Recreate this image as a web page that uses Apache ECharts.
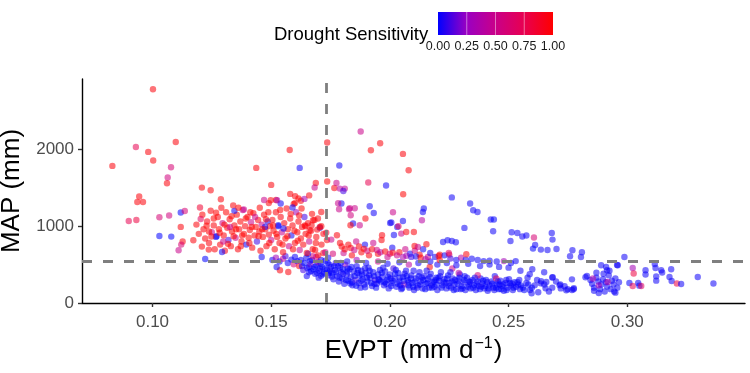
<!DOCTYPE html>
<html><head><meta charset="utf-8">
<script src="https://cdn.jsdelivr.net/npm/echarts@6/dist/echarts.min.js"></script>
<style>html,body{margin:0;padding:0;background:#fff}#c{width:750px;height:373px}</style>
</head><body><div id="c"></div>
<script>
// ---- tick labels / reference values ----
const xTicks = [0.10, 0.15, 0.20, 0.25, 0.30];
const yTicks = [0, 1000, 2000];
const legendTicks = [0, 0.25, 0.5, 0.75, 1];
const evptRef = 0.1734;
const mapRef = 540;

// ---- points: [EVPT, MAP, drought sensitivity] ----
const outlierPts = [
[0.1002,2782,0.97],[0.1098,2096,0.97],[0.0930,2031,0.75],[0.0982,1966,0.97],[0.1003,1854,0.97],[0.0831,1784,0.97],
[0.1078,1767,0.6],[0.1064,1633,0.55],[0.1061,1558,0.97],[0.1208,1502,0.97],[0.1245,1467,0.97],[0.0944,1385,0.97],
[0.0936,1315,0.97],[0.0960,1315,0.97],[0.1288,1350,0.97],[0.0900,1068,0.75],[0.0932,1081,0.8],[0.1029,1116,0.6],
[0.1070,1138,0.55],[0.1119,1177,0.0],[0.1136,1198,0.6],[0.1029,872,0.0],[0.1079,864,0.0],[0.1119,990,0.97],
[0.1127,800,0.97],[0.1121,760,0.6],[0.1110,686,0.5],[0.1172,816,0.97],[0.1208,734,1],[0.1222,573,0.0],
[0.1237,695,0.97],[0.1200,1242,0.85],[0.1203,1094,0.7],
[0.1437,1758,0.97],[0.1578,1992,0.97],[0.1620,1758,0.02],[0.1736,2089,0.97],[0.1500,1537,0.97],[0.1688,1563,0.97],
[0.1683,1503,0.5],[0.1736,1581,1],[0.1775,1563,0.5],[0.1787,1789,0.02],
[0.1877,2232,0.5],[0.1959,2079,0.97],[0.1920,1988,0.97],[0.2055,1940,0.97],[0.2079,1728,0.97],[0.1909,1568,0.75],
[0.1984,1529,0.02],[0.2056,1415,1],
[0.2261,1374,0.02],[0.2338,1294,0.02],[0.2351,1207,0.02],[0.2369,1185,0.02],[0.2425,1086,0.02],[0.2438,1086,0.0],
[0.2435,934,0.02],[0.2314,977,0.02],[0.2513,921,0.02],[0.2537,911,0.02],[0.2508,807,0.02],[0.2558,865,0.02],
[0.2575,878,0.02],[0.2607,852,0.6],[0.2612,755,0.02],[0.2603,708,0.0],[0.2636,695,0.02],[0.2664,690,0.02],
[0.2702,703,0.02],[0.2682,911,0.02],[0.2685,825,0.02],[0.2769,686,0.02],[0.2809,660,0.02],[0.2805,599,0.02],
[0.2759,608,0.02],[0.2224,794,0.02],[0.2243,816,0.02],[0.2261,807,0.02],[0.2278,790,0.02]
];

const redCluster = [
[0.1185,1020,0.97],[0.1195,900,0.97],[0.1210,1150,1],[0.1215,960,0.97],[0.1222,840,0.97],[0.1230,1060,0.95],
[0.1238,780,0.97],[0.1245,1200,0.97],[0.1250,920,0.5],[0.1258,1010,0.97],[0.1262,700,0.97],[0.1270,870,0.02],
[0.1275,1120,0.97],[0.1280,960,1.0],[0.1285,760,0.97],[0.1290,1240,0.97],[0.1295,1040,0.5],[0.1300,880,0.97],
[0.1305,680,0.95],[0.1310,1180,1],[0.1315,980,0.97],[0.1320,820,0.1],[0.1325,1090,0.97],[0.1330,740,0.97],
[0.1335,930,1.0],[0.1340,1270,0.97],[0.1345,1010,0.97],[0.1350,850,0.5],
[0.1355,1150,1],[0.1360,700,0.97],[0.1365,960,0.97],[0.1370,1060,1.0],[0.1375,800,0.97],[0.1380,1210,0.5],
[0.1385,900,1],[0.1390,1000,0.97],[0.1395,760,0.02],[0.1400,1120,0.97],[0.1405,850,1.0],[0.1410,950,0.97],
[0.1415,1050,0.5],[0.1420,720,0.97],[0.1425,1170,0.97],[0.1430,880,0.97],[0.1435,990,1.0],[0.1440,800,0.1],
[0.1445,1080,0.97],[0.1450,930,0.97],[0.1455,680,0.97],[0.1460,1020,0.5],[0.1465,860,1.0],[0.1470,1150,0.97],
[0.1475,960,0.97],[0.1480,740,0.97],[0.1485,1060,0.02],[0.1490,890,0.97],[0.1495,1000,0.97],[0.1500,820,0.5],
[0.1345,1199,0.02],[0.1385,1216,0.5],
[0.1505,1080,0.97],[0.1510,940,1.0],[0.1515,700,0.97],[0.1520,1180,0.97],[0.1525,860,0.97],[0.1530,1000,0.02],
[0.1535,780,0.97],[0.1540,1120,0.97],[0.1545,920,0.5],[0.1550,660,0.97],[0.1555,1040,0.97],[0.1560,840,1.0],
[0.1565,1230,0.97],[0.1570,960,0.97],[0.1575,740,0.5],[0.1580,1100,0.97],[0.1585,880,0.02],[0.1590,1010,0.97],
[0.1595,1290,0.97],[0.1600,780,0.97],[0.1605,1180,0.3],[0.1610,920,0.97],[0.1615,1060,0.97],[0.1620,690,0.5],
[0.1625,840,0.97],[0.1630,990,0.97],[0.1635,760,0.97],[0.1640,1120,0.1],[0.1645,900,0.97],[0.1650,650,0.97],
[0.1655,1040,0.97],[0.1660,800,0.5],[0.1668,940,0.97],[0.1675,700,0.97],[0.1682,1080,0.97],[0.1690,860,0.97],
[0.1698,620,0.97],[0.1705,980,0.02],[0.1712,760,0.97],[0.1720,900,0.97],[0.1728,660,0.5],[0.1735,820,0.97],
[0.1601,1389,0.97],[0.1580,1420,0.97],[0.1615,1360,1],[0.1625,1330,0.97],[0.1640,1355,0.3],[0.1660,1400,0.97],
[0.1600,1300,0.97],[0.1520,1340,0.97],[0.1490,1300,0.97],[0.1470,1340,0.5],[0.1540,1295,0.02],[0.1498,1337,0.97],
[0.1525,1337,0.3],[0.1590,1242,0.02],[0.1530,1012,0.02],[0.1474,990,0.02],[0.1293,664,0.02],[0.1267,860,0.02],
[0.1326,990,0.5],[0.1460,599,0.02],[0.1711,1185,0.97],[0.1676,1077,0.97],[0.1705,990,0.97]
];

const redCluster2 = [
[0.1228,1005,1],[0.1248,865,1],[0.1268,1175,1],[0.1283,915,1],[0.1303,1020,1],[0.1318,770,1],[0.1333,1130,1],
[0.1352,960,1],[0.1362,1240,1],[0.1378,880,1],[0.1393,1100,1],[0.1408,780,1],[0.1418,990,1],[0.1432,1120,0.5],
[0.1447,870,1],[0.1462,960,1],[0.1478,1090,1],[0.1492,780,1],[0.1508,1010,1],[0.1522,900,1],[0.1538,1210,1],
[0.1552,970,0.02],[0.1568,870,1],[0.1582,1160,1],[0.1598,940,1],[0.1612,810,1],[0.1628,1230,1],[0.1642,1010,1],
[0.1658,880,1],[0.1672,1160,1],[0.1688,780,1],[0.1238,930,1],[0.1258,1100,1],[0.1298,800,0.5],[0.1342,870,1],
[0.1372,740,1],[0.1412,1180,1],[0.1452,1240,1],[0.1488,1180,1],[0.1548,760,1],[0.1592,700,1],[0.1618,1140,1]
];

const crossPts = [
[0.1766,1497,0.97],[0.1789,1489,0.4],[0.1810,1489,0.45],[0.1804,1458,0.1],[0.1796,1294,0.02],[0.1782,1298,0.5],
[0.1831,1233,0.5],[0.1852,1233,0.5],[0.1915,1259,0.02],[0.1786,1220,0.5],[0.1828,1220,0.5],[0.1835,1142,0.55],
[0.1845,1034,0.02],[0.1834,1012,0.97],[0.1873,1012,0.5],[0.1897,1099,0.97],[0.1932,1172,0.02],[0.2013,1181,0.5],
[0.2006,1047,0.02],[0.2055,1068,0.02],[0.2031,990,0.02],[0.2048,903,0.5],[0.2101,924,0.97],[0.2104,742,0.97],
[0.2118,729,0.5],[0.1777,881,0.97],[0.1753,825,0.5],[0.1732,916,0.85],[0.1694,955,0.97],[0.1670,1012,0.97],
[0.1697,1099,0.97],[0.1711,999,0.97],[0.1645,999,0.97],[0.1662,947,0.97],[0.2036,999,0.7],[0.2001,1042,0.02],
[0.2069,924,0.97],[0.2017,885,0.02],[0.1967,881,0.97],[0.2143,1229,0.02],[0.2139,1185,0.02],[0.2135,1077,0.4],
[0.2154,764,0.97],[0.2206,612,0.97],[0.2248,651,0.7],[0.2322,634,0.97]
];

const shoulderPts = [
[0.1790,780,0.97],[0.1805,650,0.5],[0.1825,760,0.97],[0.1840,620,0.97],[0.1858,800,0.5],[0.1880,660,0.97],
[0.1895,760,0.02],[0.1912,620,0.97],[0.1930,780,0.5],[0.1950,640,0.97],[0.1965,820,0.97],[0.1990,600,0.5],
[0.2010,720,0.02],[0.2040,660,0.97],[0.2065,700,0.5],[0.2085,640,0.02],[0.2105,680,0.5],[0.2125,630,0.97],
[0.2140,700,0.02],[0.2160,600,0.5],[0.1655,640,0.02],[0.1690,600,0.5],[0.1720,650,0.97],[0.1740,590,0.02],
[0.1760,640,0.6],[0.1685,690,0.97],[0.1710,560,0.02],
[0.1797,735,0.97],[0.1810,700,0.97],[0.1835,715,0.95],[0.1850,690,0.5],[0.1870,735,0.97],[0.1890,705,0.97],
[0.1905,680,0.6],[0.1925,700,0.97],[0.1945,690,0.55],[0.1960,660,0.4],[0.1980,670,0.97],[0.2000,640,0.6],
[0.2012,655,0.97],[0.2030,620,0.5],[0.2055,600,0.35],[0.2070,615,0.3],[0.2090,600,0.1],[0.2110,605,0.02],
[0.2130,590,0.97],[0.2150,570,0.35],[0.2170,650,0.02],[0.2190,600,0.02],[0.2210,560,0.97],[0.2230,620,0.02],
[0.2255,580,0.1],[0.2280,560,0.02],[0.2300,590,0.4],[0.2320,565,0.02],[0.2345,575,0.02],[0.2370,560,0.02],
[0.2395,545,0.02],[0.2420,550,0.02],[0.2450,540,0.02],[0.2480,545,0.3],[0.2510,520,0.02],[0.2530,545,0.02]
];

const bandPts = [
[0.1505,560,0.02],[0.1520,590,0.3],[0.1535,540,0.02],[0.1550,575,0.5],[0.1560,610,0.1],[0.1570,520,0.02],
[0.1585,565,0.02],[0.1595,505,0.6],[0.1600,600,0.02],[0.1610,545,0.02],[0.1618,480,0.97],[0.1537,426,0.97],
[0.1572,404,0.97],[0.1523,469,0.02],
[0.1625,560,0.02],[0.1630,480,0.02],[0.1635,430,0.1],[0.1640,520,0.0],[0.1648,590,0.02],[0.1652,455,0.02],
[0.1660,400,0.02],[0.1665,505,0.3],[0.1672,560,0.02],[0.1678,440,0.0],[0.1685,380,0.02],[0.1690,490,0.02],
[0.1698,530,0.4],[0.1702,420,0.02],[0.1710,355,0.02],[0.1715,470,0.0],[0.1722,395,0.02],[0.1728,550,0.02],
[0.1735,430,0.02],[0.1740,360,0.1],[0.1745,500,0.02],[0.1650,350,0.02],[0.1700,330,0.02],[0.1675,610,0.6],
[0.1752,470,0.02],[0.1758,390,0.0],[0.1762,310,0.02],[0.1768,430,0.02],[0.1772,520,0.1],[0.1778,350,0.02],
[0.1785,280,0.02],[0.1790,460,0.0],[0.1795,400,0.02],[0.1800,320,0.02],[0.1808,250,0.02],[0.1812,500,0.3],
[0.1818,370,0.02],[0.1825,290,0.0],[0.1830,440,0.02],[0.1835,340,0.02],[0.1842,230,0.02],[0.1848,410,0.02],
[0.1855,300,0.1],[0.1860,480,0.02],[0.1868,260,0.02],[0.1872,360,0.0],[0.1880,420,0.02],[0.1885,310,0.02],
[0.1892,240,0.02],[0.1898,390,0.02],[0.1905,280,0.0],[0.1910,460,0.02],[0.1918,330,0.02],[0.1925,220,0.02],
[0.1930,400,0.02],[0.1938,300,0.1],[0.1945,250,0.02],[0.1950,370,0.02],[0.1958,430,0.02],[0.1962,280,0.0],
[0.1968,340,0.02],[0.1975,230,0.02],[0.1980,410,0.02],[0.1988,300,0.0],[0.1995,190,0.02],[0.2000,370,0.02],
[0.2008,260,0.02],[0.2015,450,0.1],[0.2020,320,0.02],[0.2028,210,0.02],[0.2035,390,0.0],[0.2040,280,0.02],
[0.2048,180,0.02],[0.2055,340,0.02],[0.2060,240,0.3],[0.2068,420,0.02],[0.2075,300,0.02],[0.2082,200,0.02],
[0.2090,360,0.02],[0.2095,260,0.0],[0.2102,170,0.02],[0.2110,320,0.02],[0.2118,230,0.02],[0.2125,400,0.02],
[0.2130,280,0.02],[0.2138,190,0.02],[0.2145,350,0.02],[0.2152,250,0.0],[0.2160,310,0.02],[0.2165,200,0.02],
[0.2172,380,0.02],[0.2180,270,0.02],[0.2188,210,0.02],[0.2195,330,0.0],[0.2200,170,0.02],[0.2208,290,0.02],
[0.2215,400,0.02],[0.2222,230,0.02],[0.2230,310,0.02],[0.2238,190,0.02],[0.2245,360,0.0],[0.2250,260,0.02],
[0.2258,200,0.02],[0.2265,320,0.02],[0.2272,240,0.02],[0.2280,180,0.02],[0.2288,290,0.02],[0.2295,370,0.02],
[0.2302,220,0.0],[0.2310,270,0.02],[0.2318,170,0.02],[0.2325,330,0.02],[0.2332,240,0.02],[0.2340,190,0.02],
[0.2348,300,0.02],[0.2355,230,0.0],[0.2362,170,0.02],[0.2370,280,0.02],[0.2375,220,0.02],
[0.2382,320,0.02],[0.2390,250,0.02],[0.2398,190,0.02],[0.2405,300,0.0],[0.2412,160,0.02],[0.2420,230,0.02],
[0.2428,280,0.02],[0.2435,200,0.02],[0.2442,350,0.02],[0.2450,240,0.02],[0.2458,180,0.0],[0.2465,290,0.02],
[0.2472,220,0.02],[0.2480,160,0.02],[0.2488,260,0.02],[0.2495,200,0.02],[0.2502,310,0.02],[0.2510,230,0.02],
[0.2518,170,0.02],[0.2525,270,0.0],[0.2532,210,0.02],[0.2540,240,0.02],[0.2548,180,0.02],
[0.2168,469,0.97],[0.2210,630,0.97],[0.2250,630,0.7],[0.2448,318,0.7],[0.2370,361,0.6],[0.2263,448,0.5],[0.2290,390,0.4]
];

const bandPts2 = [
[0.1660,470,0.02],[0.1705,450,0.02],[0.1748,420,0.02],[0.1782,480,0.02],[0.1803,380,0.02],[0.1822,450,0.02],
[0.1840,270,0.02],[0.1863,390,0.02],[0.1876,200,0.02],[0.1895,450,0.02],[0.1912,360,0.02],[0.1935,250,0.02],
[0.1952,310,0.02],[0.1972,460,0.02],[0.1985,250,0.02],[0.2003,320,0.02],[0.2025,430,0.02],[0.2044,230,0.02],
[0.2062,380,0.02],[0.2080,270,0.02],[0.2100,420,0.02],[0.2115,200,0.02],[0.2135,330,0.02],[0.2155,420,0.02],
[0.2175,230,0.02],[0.2192,300,0.02],[0.2212,350,0.02],[0.2235,260,0.02],[0.2255,400,0.02],[0.2275,300,0.02],
[0.2298,180,0.02],[0.2315,350,0.02],[0.2338,270,0.02],[0.2358,330,0.02],[0.2385,210,0.02],[0.2410,270,0.02],
[0.2440,170,0.02],[0.2462,240,0.02],[0.2490,300,0.02],[0.2515,250,0.02],[0.2545,300,0.02],[0.2560,200,0.02],
[0.2575,260,0.02],[0.2590,170,0.02],[0.2610,230,0.02],[0.2625,140,0.02],[0.2650,240,0.02],[0.2670,150,0.02],
[0.2700,280,0.02],[0.2720,190,0.02],[0.2580,330,0.02],[0.2620,300,0.02],
[0.1820,540,0.02],[0.1860,560,0.3],[0.1900,520,0.02],[0.1950,540,0.5],[0.1990,510,0.02],[0.2040,530,0.02],
[0.2080,500,0.4],[0.2120,520,0.02],[0.2170,540,0.02],[0.2200,500,0.02],[0.2240,520,0.02],[0.2280,490,0.02],
[0.2330,510,0.02],[0.2380,480,0.02],[0.2420,500,0.02],[0.2460,470,0.02],[0.2500,460,0.02],[0.2550,420,0.02],
[0.2600,440,0.02],[0.2650,400,0.02]
];

const bandPts3 = [
[0.1663,545,0],[0.1668,415,0],[0.1683,470,0],[0.1693,395,0],[0.1708,510,0],[0.1718,375,0],[0.1726,445,0],
[0.1738,520,0],[0.1744,395,0],[0.1756,345,0],[0.1765,480,0],[0.1774,400,0],[0.1788,330,0],[0.1793,520,0],
[0.1802,440,0],[0.1815,300,0],[0.1821,410,0],[0.1833,255,0],[0.1838,470,0],[0.1851,350,0],[0.1858,225,0],
[0.1866,430,0],[0.1879,290,0],[0.1883,370,0],[0.1896,205,0],[0.1903,330,0],[0.1915,420,0],[0.1921,260,0],
[0.1933,350,0],[0.1942,200,0],[0.1955,300,0],[0.1966,390,0],[0.1978,270,0],[0.1992,340,0],
[0.2006,220,0],[0.2012,290,0],[0.2022,380,0],[0.2033,250,0],[0.2041,330,0],[0.2052,195,0],[0.2058,290,0],
[0.2071,350,0],[0.2078,230,0],[0.2088,320,0],[0.2098,210,0],[0.2106,280,0],[0.2121,350,0],[0.2128,240,0],
[0.2141,300,0],[0.2149,180,0],[0.2158,260,0],[0.2168,340,0],[0.2178,200,0],[0.2186,280,0],[0.2198,240,0],
[0.2205,330,0],[0.2218,200,0],[0.2226,270,0],[0.2241,320,0],[0.2248,220,0],[0.2262,280,0],[0.2269,170,0],
[0.2285,250,0],[0.2292,330,0],[0.2305,190,0],[0.2313,300,0],[0.2328,210,0],[0.2335,280,0],[0.2351,200,0],
[0.2365,250,0],[0.2379,180,0],[0.2393,290,0],
[0.2402,220,0],[0.2416,190,0],[0.2431,250,0],[0.2447,200,0],[0.2455,280,0],[0.2469,180,0],[0.2477,240,0],
[0.2492,170,0],[0.2505,260,0],[0.2521,200,0],[0.2538,270,0],[0.2552,230,0],[0.2566,170,0],[0.2583,240,0],
[0.2598,200,0]
];

const rightTail = [
[0.2637,283,0.02],[0.2659,274,0.02],[0.2684,331,0.02],[0.2684,200,0.02],[0.2718,243,0.02],[0.2736,217,0.02],
[0.2743,165,0.02],[0.2767,169,0.02],[0.2775,191,0.02],[0.2767,308,0.02],[0.2589,374,0.02],[0.2686,335,0.02],
[0.2824,335,0.02],[0.2749,178,0.02],[0.2774,178,0.02],[0.2597,126,0.02],[0.2715,230,0.02],[0.2656,191,0.02],
[0.2635,256,0.02],
[0.2830,352,0.02],[0.2845,300,0.02],[0.2852,250,0.02],[0.2860,200,0.02],[0.2870,330,0.02],[0.2878,280,0.02],
[0.2885,180,0.02],[0.2890,240,0.02],[0.2898,310,0.02],[0.2905,150,0.02],[0.2910,270,0.02],[0.2915,215,0.02],
[0.2922,360,0.02],[0.2930,180,0.02],[0.2935,290,0.02],[0.2942,240,0.02],[0.2950,320,0.02],[0.2958,200,0.02],
[0.2965,270,0.02],[0.2870,395,0.02],[0.2900,380,0.02],[0.2925,420,0.02],[0.2860,160,0.02],[0.2880,130,0.02],
[0.2945,150,0.02],[0.2880,230,0.3],[0.2855,318,0.35],[0.2917,274,0.4],
[0.2988,599,0.02],[0.3116,508,0.02],[0.3119,456,0.02],[0.3143,426,0.02],[0.3147,396,0.02],[0.3185,439,0.02],
[0.3023,456,0.3],[0.3027,383,0.8],[0.3077,426,0.02],[0.3077,370,0.02],[0.3122,291,0.02],[0.3122,347,0.02],
[0.3178,338,0.02],[0.3187,287,0.02],[0.3209,253,0.8],[0.3227,247,0.02],[0.3297,338,0.02],[0.3363,253,0.02],
[0.3009,260,0.0],[0.3023,221,0.75],[0.3046,260,0.02],[0.3051,226,0.0],[0.3059,221,0.7],[0.2950,135,0.02],
[0.2960,491,0.02],[0.2911,469,0.02],[0.2890,491,0.02],[0.2915,426,0.02],[0.2957,495,0.02]
];

// ---- chart ----
const FONT = '"Liberation Sans", Arial, Helvetica, sans-serif';
const colorStops = ['#0000FF', '#9A00C2', '#C90089', '#E80050', '#FF0000'];
const allPts = [].concat(bandPts, bandPts2, bandPts3, rightTail, shoulderPts, redCluster, redCluster2, crossPts, outlierPts);

const bar = { x: 438, y: 12, w: 115, h: 23 };
const graphics = [
  { type: 'text', left: 274, top: 25, style: { text: 'Drought Sensitivity', fontSize: 18.5, fontFamily: FONT, fill: '#000' } },
  { type: 'rect', shape: { x: bar.x, y: bar.y, width: bar.w, height: bar.h },
    style: { fill: new echarts.graphic.LinearGradient(0, 0, 1, 0,
      colorStops.map((c, i) => ({ offset: i / (colorStops.length - 1), color: c }))) } }
];
legendTicks.forEach(t => {
  if (t > 0 && t < 1) {
    graphics.push({ type: 'line', shape: { x1: bar.x + t * bar.w, y1: bar.y, x2: bar.x + t * bar.w, y2: bar.y + bar.h },
      style: { stroke: 'rgba(255,255,255,0.45)', lineWidth: 1 } });
  }
  graphics.push({ type: 'text', x: bar.x + t * bar.w, y: bar.y + bar.h + 5,
    style: { text: t.toFixed(2), fontSize: 12.5, fontFamily: FONT, fill: '#1a1a1a', textAlign: 'center', textVerticalAlign: 'top' } });
});

const chart = echarts.init(document.getElementById('c'));
chart.setOption({
  animation: false,
  backgroundColor: '#fff',
  grid: { left: 82, right: 5, top: 79, bottom: 70, containLabel: false, outerBoundsMode: 'none' },
  xAxis: {
    type: 'value', min: 0.0703, max: 0.3496,
    name: 'EVPT (mm d{sup|\u22121})', nameLocation: 'middle', nameGap: 33,
    nameTextStyle: { fontSize: 26, color: '#000', fontFamily: FONT,
      rich: { sup: { fontSize: 16, color: '#000', fontFamily: FONT, padding: [0, 1, 13, 1] } } },
    axisLine: { show: true, onZero: false, lineStyle: { color: '#000', width: 1.4 } },
    axisTick: { show: true, length: 4, customValues: xTicks, lineStyle: { color: '#333', width: 1.4 } },
    axisLabel: { customValues: xTicks, margin: 11, fontSize: 17, color: '#4D4D4D', fontFamily: FONT,
      formatter: v => Number(v).toFixed(2) },
    splitLine: { show: false }
  },
  yAxis: {
    type: 'value', min: 0, max: 2915,
    name: 'MAP (mm)', nameLocation: 'middle', nameGap: 50, nameRotate: 90,
    nameTextStyle: { fontSize: 26, color: '#000', fontFamily: FONT },
    axisLine: { show: true, onZero: false, lineStyle: { color: '#000', width: 1.4 } },
    axisTick: { show: true, length: 4, customValues: yTicks, lineStyle: { color: '#333', width: 1.4 } },
    axisLabel: { customValues: yTicks, margin: 8, fontSize: 17, color: '#4D4D4D', fontFamily: FONT,
      formatter: v => String(Math.round(v)) },
    splitLine: { show: false }
  },
  visualMap: { type: 'continuous', show: false, min: 0, max: 1, dimension: 2, seriesIndex: 0,
    inRange: { color: colorStops } },
  series: [{
    type: 'scatter', data: allPts, symbolSize: 6.4,
    itemStyle: { opacity: 0.55 },
    markLine: {
      silent: true, symbol: 'none', animation: false, precision: 4,
      label: { show: false },
      lineStyle: { color: '#7F7F7F', width: 2.8, type: [10, 11], opacity: 1 },
      data: [{ xAxis: evptRef }, { yAxis: mapRef }]
    }
  }],
  graphic: graphics
});
</script>
</body></html>
